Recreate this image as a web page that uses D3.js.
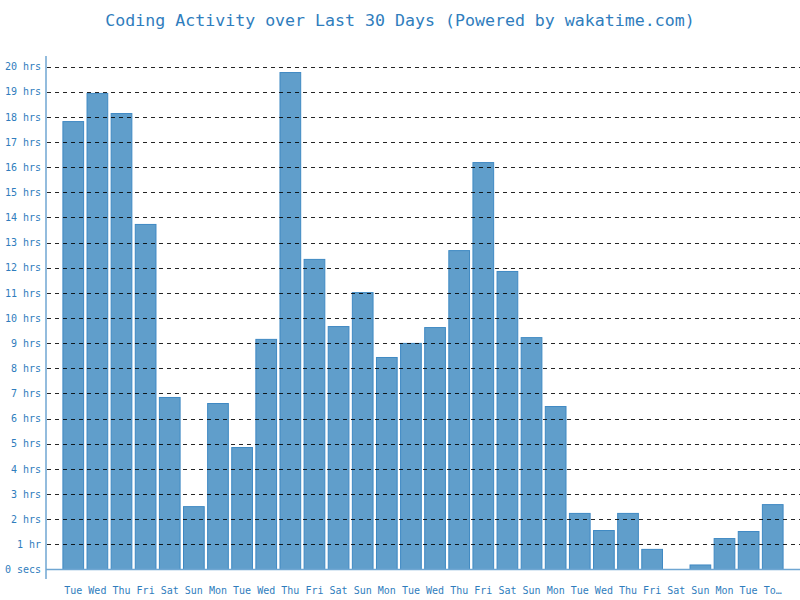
<!DOCTYPE html>
<html>
<head>
<meta charset="utf-8">
<script src="https://cdn.jsdelivr.net/npm/d3@7"></script>
<style>
  body { margin: 0; background: #fff; }
  text { font-family: 'DejaVu Sans Mono', monospace; }
</style>
</head>
<body>
<script>
'use strict';

const days = ['Tue', 'Wed', 'Thu', 'Fri', 'Sat', 'Sun', 'Mon',
  'Tue', 'Wed', 'Thu', 'Fri', 'Sat', 'Sun', 'Mon',
  'Tue', 'Wed', 'Thu', 'Fri', 'Sat', 'Sun', 'Mon',
  'Tue', 'Wed', 'Thu', 'Fri', 'Sat', 'Sun', 'Mon',
  'Tue', 'Today'];
const hours = [17.81, 18.93, 18.13, 13.72, 6.84, 2.50, 6.60,
  4.85, 9.15, 19.76, 12.33, 9.66, 11.01, 8.43,
  8.99, 9.62, 12.68, 16.18, 11.85, 9.22, 6.48,
  2.23, 1.55, 2.23, 0.80, 0, 0.18, 1.23,
  1.51, 2.58];
const yTicks = d3.range(0, 21);
const yTickLabels = yTicks.map(h => h === 0 ? '0 secs' : h === 1 ? '1 hr' : `${h} hrs`);

const W = 800, H = 600;
const blue = '#2f7dbd';

const svg = d3.select('body').append('svg').attr('width', W).attr('height', H);

svg.append('text')
    .attr('x', 400)
    .attr('y', 26)
    .attr('text-anchor', 'middle')
    .attr('fill', blue)
    .style('font-size', '16.6px')
    .text('Coding Activity over Last 30 Days (Powered by wakatime.com)');

const x = d3.scaleBand().domain(d3.range(days.length)).range([60, 786]).paddingInner(0.1).paddingOuter(0.1);
const y = d3.scaleLinear().domain([0, 20]).range([569.5, 66.5]);

// bars
svg.append('g').selectAll('rect').data(hours).enter().append('rect')
    .attr('x', (d, i) => x(i) + 0.5)
    .attr('y', d => y(d))
    .attr('width', x.bandwidth() - 1)
    .attr('height', d => y(0) - y(d))
    .attr('fill', '#609ecb')
    .attr('stroke', '#3f89c3')
    .attr('stroke-width', 1);

// dashed grid, drawn over the bars
svg.append('g').selectAll('line').data(yTicks.slice(1)).enter().append('line')
    .attr('x1', 47).attr('x2', W)
    .attr('y1', d => Math.round(y(d)) + 0.5)
    .attr('y2', d => Math.round(y(d)) + 0.5)
    .attr('stroke', '#000')
    .attr('stroke-opacity', 0.85)
    .attr('stroke-dasharray', '4,4');

// axes
const yAxis = d3.axisLeft(y).tickValues(yTicks).tickFormat((d, i) => yTickLabels[i]).tickSize(0).tickPadding(5);
const yg = svg.append('g').attr('transform', 'translate(46,0)').call(yAxis);
yg.select('.domain').remove();
yg.selectAll('text').attr('fill', blue).style('font-size', '10px').style('font-family', "'DejaVu Sans Mono', monospace");

svg.append('line')
    .attr('x1', 46).attr('x2', 46).attr('y1', 56).attr('y2', 579)
    .attr('stroke', '#6fa6d2').attr('stroke-width', 1.5);
svg.append('line')
    .attr('x1', 46).attr('x2', W).attr('y1', 569.5).attr('y2', 569.5)
    .attr('stroke', '#6fa6d2').attr('stroke-width', 1.5);

const xAxis = d3.axisBottom(x).tickFormat(i => days[i] === 'Today' ? 'To…' : days[i]).tickSize(0).tickPadding(18);
const xg = svg.append('g').attr('transform', 'translate(0,569)').call(xAxis);
xg.select('.domain').remove();
xg.selectAll('text').attr('fill', blue).style('font-size', '10px').style('font-family', "'DejaVu Sans Mono', monospace");
</script>
</body>
</html>
